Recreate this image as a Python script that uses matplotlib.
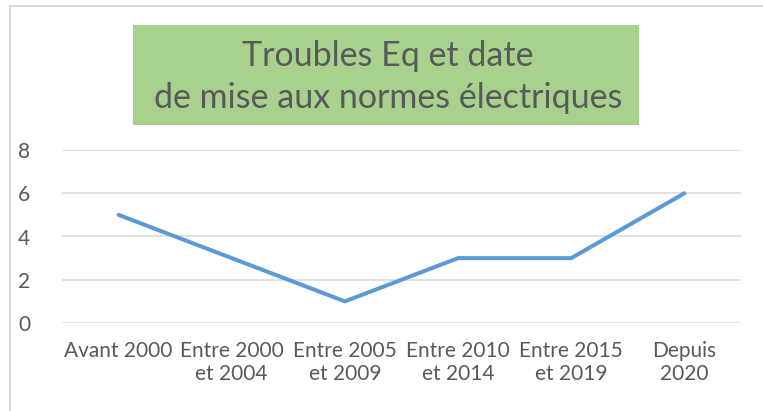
import matplotlib
matplotlib.use('Agg')
import matplotlib.pyplot as plt
from matplotlib.patches import Rectangle

categories = ['Avant 2000', 'Entre 2000\net 2004', 'Entre 2005\net 2009',
              'Entre 2010\net 2014', 'Entre 2015\net 2019', 'Depuis\n2020']
values = [5, 3, 1, 3, 3, 6]
yticks = [0, 2, 4, 6, 8]
title = 'Troubles Eq et date\nde mise aux normes électriques'

plt.rcParams['font.family'] = ['Lato', 'DejaVu Sans']
GREY = '#595959'

fig = plt.figure(figsize=(7.63, 4.11), dpi=100)
W, H = 763, 411
ax = fig.add_axes([62 / W, 1 - 323 / H, (741 - 62) / W, (323 - 150) / H])

x = list(range(len(categories)))
ax.plot(x, values, color='#5B9BD5', lw=2.9, solid_capstyle='round', solid_joinstyle='round', zorder=3)
ax.set_xlim(-0.5, len(categories) - 0.5)
ax.set_ylim(0, 8)
ax.set_yticks(yticks)
ax.set_xticks(x)
ax.set_xticklabels(categories, fontsize=15, color=GREY, linespacing=1.2)
ax.tick_params(axis='y', labelsize=15, labelcolor=GREY, length=0, pad=23)
ax.tick_params(axis='x', length=0, pad=13)
for lab in ax.get_yticklabels():
    lab.set_horizontalalignment('right')
ax.grid(axis='y', color='#D9D9D9', lw=1.1)
ax.set_axisbelow(True)
for s in ax.spines.values():
    s.set_visible(False)

# outer chart border
fig.patches.append(Rectangle((10 / W, -0.05), 1.1, 1 - 6 / H + 0.05, transform=fig.transFigure,
                             fill=False, edgecolor='#D9D9D9', lw=1.5))
# title box
fig.patches.append(Rectangle((133 / W, 1 - 125 / H), (639 - 133) / W, 100 / H,
                             transform=fig.transFigure, facecolor='#A9D18E', edgecolor='none'))
fig.text(388 / W, 1 - 77 / H, title, ha='center', va='center', fontsize=24.5,
         color=GREY, linespacing=1.38)

fig.savefig('out.png', dpi=100)
